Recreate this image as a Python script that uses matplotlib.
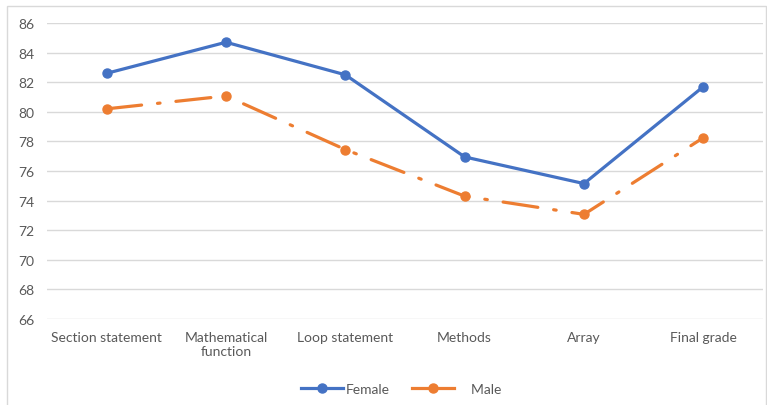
import matplotlib.pyplot as plt
import matplotlib.patches as mpatches
from matplotlib.lines import Line2D

categories = ["Section statement", "Mathematical\nfunction", "Loop statement",
              "Methods", "Array", "Final grade"]
female = [82.6, 84.7, 82.5, 76.95, 75.15, 81.7]
male = [80.2, 81.07, 77.45, 74.3, 73.07, 78.25]
y_ticks = [66, 68, 70, 72, 74, 76, 78, 80, 82, 84, 86]

BLUE = "#4472C4"
ORANGE = "#ED7D31"
GRID = "#D9D9D9"
TEXT = "#595959"

plt.rcParams["font.family"] = ["Lato", "DejaVu Sans"]

fig = plt.figure(figsize=(7.67, 4.06), dpi=100)
ax = fig.add_axes([47 / 767, 1 - 320 / 406, 716 / 767, 296 / 406])

x = list(range(len(categories)))
ax.plot(x, female, color=BLUE, linewidth=2.3, marker="o", markersize=6.5,
        solid_capstyle="round", label="Female", zorder=3)
ax.plot(x, male, color=ORANGE, linewidth=2.3, marker="o", markersize=6.5,
        linestyle=(0, (11, 5, 0.8, 5)), dash_capstyle="round",
        label="Male", zorder=3)

ax.set_xlim(-0.5, len(categories) - 0.5)
ax.set_ylim(66, 86)
ax.set_yticks(y_ticks)
ax.set_xticks(x)
ax.set_xticklabels(categories, fontsize=10, color=TEXT, linespacing=1.15)
ax.tick_params(axis="y", labelsize=10, labelcolor=TEXT, length=0, pad=9)
ax.tick_params(axis="x", length=0, pad=9)
ax.grid(axis="y", color=GRID, linewidth=1)
ax.set_axisbelow(True)
for s in ax.spines.values():
    s.set_visible(False)

handles = [
    Line2D([0], [0], color=BLUE, linewidth=2.3, marker="o", markersize=6.5),
    Line2D([0], [0], color=ORANGE, linewidth=2.3, marker="o", markersize=6.5),
]
leg = fig.legend(handles, ["Female", "    Male"], loc="center",
                 bbox_to_anchor=(0.523, 1 - 390 / 406), ncol=2, frameon=False,
                 fontsize=10, handlelength=3.0, columnspacing=1.6,
                 handletextpad=0.2)
for t in leg.get_texts():
    t.set_color(TEXT)

# chart border
fig.patches.append(mpatches.Rectangle((7 / 767, -0.01), 759 / 767, 1 - 7 / 406 + 0.01,
                                      transform=fig.transFigure, fill=False,
                                      edgecolor=GRID, linewidth=1))

fig.savefig("out.png", dpi=100)
